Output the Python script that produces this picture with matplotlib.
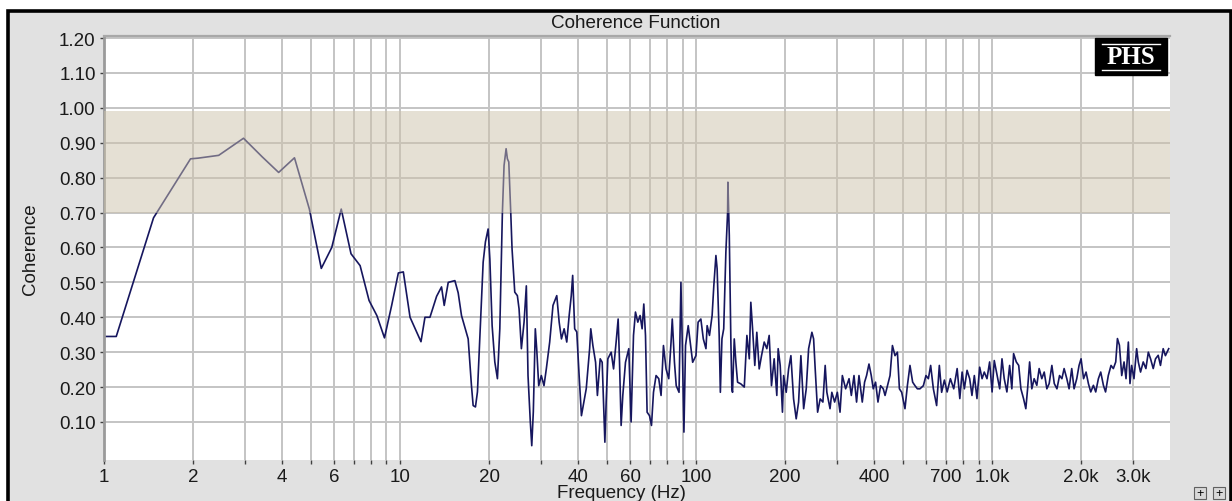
import matplotlib
matplotlib.use('Agg')
import matplotlib.pyplot as plt
from matplotlib.patches import Rectangle
from matplotlib.lines import Line2D
from matplotlib.ticker import FixedLocator, FixedFormatter

# Coherence data (frequency in Hz, coherence 0..1)
freq_hz = [
    1.0, 1.1, 1.47, 1.96, 2.08, 2.44, 2.96, 3.42, 3.89, 4.40,
    4.94, 5.42, 5.88, 6.33, 6.83, 7.33, 7.86, 8.35, 8.86, 9.37,
    9.87, 10.26, 10.81, 11.77, 12.14, 12.62, 13.29, 13.81, 14.10, 14.55,
    15.32, 15.72, 16.13, 16.99, 17.43, 17.66, 17.98, 18.26, 18.60, 19.09,
    19.43, 19.84, 20.11, 20.47, 20.90, 21.33, 21.73, 22.17, 22.46, 22.82,
    23.05, 23.30, 23.66, 23.90, 24.41, 24.91, 25.24, 25.70, 26.24, 26.71,
    27.06, 27.55, 27.86, 28.20, 28.64, 28.95, 29.41, 30.01, 30.64, 31.20,
    32.03, 32.86, 33.84, 34.48, 35.10, 35.84, 36.58, 37.27, 37.88, 38.30,
    38.90, 39.54, 40.27, 41.00, 42.56, 43.70, 44.09, 44.82, 45.77, 46.42,
    47.44, 48.18, 48.71, 49.20, 49.70, 50.35, 51.67, 52.64, 53.70, 54.55,
    55.14, 55.83, 56.56, 57.76, 59.26, 60.33, 61.47, 62.42, 63.56, 64.70,
    65.73, 66.60, 67.48, 68.33, 69.62, 70.70, 71.81, 73.27, 74.82, 76.17,
    77.60, 79.18, 80.86, 82.32, 83.10, 84.53, 85.70, 87.59, 88.89, 89.80,
    90.99, 92.13, 94.08, 96.12, 97.39, 99.9, 101.6, 103.8, 105.8, 108.0,
    109.0, 111.0, 113.3, 114.8, 116.7, 117.8, 119.7, 120.8, 122.3, 124.0,
    126.1, 127.8, 128.1, 129.5, 131.1, 132.1, 132.8, 134.6, 136.3, 138.1,
    141.7, 145.5, 148.5, 151.3, 153.1, 155.2, 157.9, 160.4, 163.4, 166.4,
    169.9, 173.4, 176.6, 179.8, 183.6, 187.4, 189.4, 192.4, 195.8, 197.6,
    201.6, 205.4, 209.1, 213.5, 217.9, 222.0, 226.0, 230.9, 235.6, 240.0,
    246.2, 249.5, 252.6, 257.4, 262.6, 268.2, 273.0, 276.6, 283.5, 287.5,
    293.8, 300.1, 306.4, 312.0, 320.1, 328.7, 334.6, 341.6, 348.5, 355.1,
    364.3, 370.9, 376.7, 383.8, 390.7, 396.8, 404.0, 411.6, 420.0, 428.9,
    434.9, 443.1, 452.1, 460.6, 469.9, 478.8, 486.3, 495.0, 507.8, 517.4,
    527.9, 539.1, 548.9, 559.2, 570.5, 586.0, 597.9, 609.2, 620.1, 633.3,
    649.6, 663.4, 675.4, 690.0, 705, 723, 742, 762, 778, 792,
    806, 823, 840, 855, 871, 889, 908, 925, 941, 961,
    981, 1000, 1017, 1040, 1061, 1080, 1099, 1122, 1146, 1166,
    1182, 1207, 1230, 1251, 1277, 1300, 1318, 1339, 1362, 1387,
    1416, 1442, 1472, 1500, 1531, 1559, 1592, 1622, 1656, 1690,
    1721, 1751, 1788, 1820, 1858, 1892, 1932, 1967, 1998, 2037,
    2077, 2115, 2154, 2199, 2239, 2286, 2328, 2377, 2417, 2469,
    2522, 2568, 2616, 2651, 2692, 2741, 2791, 2834, 2886, 2923,
    2961, 3015, 3078, 3118, 3173, 3240, 3308, 3371, 3430, 3502,
    3565, 3640, 3705, 3784, 3850, 3950,
]
coherence = [
    0.345, 0.345, 0.685, 0.854, 0.856, 0.864, 0.913, 0.860, 0.815, 0.857,
    0.710, 0.540, 0.600, 0.710, 0.582, 0.548, 0.448, 0.405, 0.341, 0.434,
    0.527, 0.530, 0.400, 0.330, 0.400, 0.400, 0.460, 0.487, 0.434, 0.500,
    0.505, 0.470, 0.405, 0.338, 0.204, 0.147, 0.143, 0.186, 0.338, 0.558,
    0.616, 0.653, 0.567, 0.376, 0.272, 0.224, 0.367, 0.700, 0.835, 0.883,
    0.854, 0.845, 0.700, 0.596, 0.472, 0.462, 0.424, 0.310, 0.386, 0.490,
    0.233, 0.100, 0.032, 0.129, 0.367, 0.310, 0.204, 0.233, 0.204, 0.252,
    0.329, 0.434, 0.462, 0.386, 0.338, 0.367, 0.329, 0.405, 0.462, 0.520,
    0.367, 0.358, 0.233, 0.118, 0.195, 0.310, 0.367, 0.319, 0.271, 0.176,
    0.281, 0.271, 0.147, 0.042, 0.158, 0.281, 0.300, 0.252, 0.329, 0.395,
    0.271, 0.090, 0.176, 0.271, 0.310, 0.100, 0.348, 0.415, 0.386, 0.405,
    0.367, 0.438, 0.348, 0.128, 0.118, 0.090, 0.185, 0.233, 0.224, 0.176,
    0.319, 0.252, 0.224, 0.329, 0.395, 0.271, 0.204, 0.185, 0.500, 0.329,
    0.071, 0.319, 0.376, 0.310, 0.271, 0.290, 0.386, 0.395, 0.338, 0.310,
    0.376, 0.348, 0.405, 0.490, 0.577, 0.539, 0.348, 0.185, 0.338, 0.367,
    0.587, 0.700, 0.787, 0.634, 0.329, 0.195, 0.185, 0.338, 0.271, 0.214,
    0.209, 0.200, 0.348, 0.281, 0.443, 0.367, 0.262, 0.357, 0.252, 0.290,
    0.329, 0.310, 0.348, 0.204, 0.281, 0.176, 0.310, 0.262, 0.128, 0.233,
    0.185, 0.252, 0.290, 0.166, 0.109, 0.157, 0.290, 0.138, 0.195, 0.310,
    0.357, 0.338, 0.252, 0.128, 0.166, 0.157, 0.262, 0.185, 0.138, 0.185,
    0.157, 0.185, 0.128, 0.233, 0.195, 0.224, 0.176, 0.233, 0.157, 0.233,
    0.157, 0.214, 0.233, 0.266, 0.233, 0.195, 0.214, 0.157, 0.204, 0.195,
    0.176, 0.204, 0.233, 0.319, 0.290, 0.300, 0.195, 0.185, 0.138, 0.204,
    0.262, 0.214, 0.204, 0.195, 0.195, 0.204, 0.233, 0.224, 0.262, 0.195,
    0.147, 0.262, 0.185, 0.220, 0.186, 0.224, 0.195, 0.253, 0.167, 0.243,
    0.195, 0.248, 0.224, 0.176, 0.233, 0.167, 0.257, 0.224, 0.243, 0.224,
    0.272, 0.186, 0.276, 0.233, 0.195, 0.281, 0.224, 0.186, 0.262, 0.195,
    0.296, 0.272, 0.262, 0.195, 0.167, 0.138, 0.195, 0.272, 0.195, 0.224,
    0.205, 0.253, 0.224, 0.243, 0.195, 0.210, 0.262, 0.210, 0.195, 0.233,
    0.224, 0.253, 0.224, 0.195, 0.253, 0.195, 0.224, 0.262, 0.281, 0.224,
    0.243, 0.210, 0.186, 0.205, 0.186, 0.224, 0.243, 0.205, 0.186, 0.233,
    0.262, 0.253, 0.272, 0.339, 0.320, 0.233, 0.272, 0.224, 0.329, 0.210,
    0.262, 0.224, 0.310, 0.272, 0.243, 0.272, 0.253, 0.300, 0.281, 0.253,
    0.281, 0.291, 0.262, 0.310, 0.290, 0.310,
]

x_ticks = [1, 2, 3, 4, 5, 6, 7, 8, 9,
           10, 20, 30, 40, 50, 60, 70, 80, 90,
           100, 200, 300, 400, 500, 600, 700, 800, 900,
           1000, 2000, 3000]
x_tick_text = {1: '1', 2: '2', 4: '4', 6: '6', 10: '10', 20: '20', 40: '40',
               60: '60', 100: '100', 200: '200', 400: '400', 700: '700',
               1000: '1.0k', 2000: '2.0k', 3000: '3.0k'}
y_ticks = [0.1, 0.2, 0.3, 0.4, 0.5, 0.6, 0.7, 0.8, 0.9, 1.0, 1.1, 1.2]
band_low, band_high = 0.70, 0.99

plt.rcParams['font.family'] = ['Liberation Sans', 'DejaVu Sans']
W, H = 1232, 502
fig = plt.figure(figsize=(W / 100, H / 100), dpi=100, facecolor='white')

# grey panel with black frame (behind the axes)
fig.patches.append(Rectangle((8 / W, -0.1), (1230.5 - 8) / W, 1.1 - 11.5 / H,
                             transform=fig.transFigure, facecolor='#e1e1e1',
                             edgecolor='black', linewidth=2.6, zorder=-10))

ax = fig.add_axes([104 / W, 1 - 461 / H, (1170 - 104) / W, (461 - 37) / H])
ax.set_zorder(1)
ax.set_facecolor('white')
ax.set_xscale('log')
ax.set_xlim(1, 3990)
ax.set_ylim(-0.009, 1.206)

ax.plot(freq_hz, coherence, color='#16165e', linewidth=1.2, zorder=2)
ax.axhspan(band_low, band_high, facecolor=(205 / 255, 195 / 255, 171 / 255),
           alpha=0.5, linewidth=0, zorder=3)

ax.xaxis.set_major_locator(FixedLocator(x_ticks))
ax.xaxis.set_major_formatter(FixedFormatter([x_tick_text.get(t, '') for t in x_ticks]))
ax.xaxis.set_minor_locator(FixedLocator([]))
ax.yaxis.set_major_locator(FixedLocator(y_ticks))
ax.yaxis.set_major_formatter(FixedFormatter(['%.2f' % v for v in y_ticks]))
ax.grid(True, which='major', color='#c4c4c4', linewidth=1.4)
ax.set_axisbelow(True)
ax.tick_params(axis='both', direction='out', length=3, width=1, color='#404040',
               labelsize=13.5, labelcolor='#1a1a1a')
ax.tick_params(axis='y', pad=3)
ax.tick_params(axis='x', pad=3)

for side in ['right', 'bottom']:
    ax.spines[side].set_visible(False)
ax.spines['left'].set_color('#9a9a9a')
ax.spines['left'].set_linewidth(2.0)
ax.spines['top'].set_color('#a8a8a8')
ax.spines['top'].set_linewidth(1.6)

fig.text(636 / W, 1 - 23 / H, 'Coherence Function', ha='center', va='center',
         fontsize=13.6, color='#1a1a1a')
fig.text(31 / W, 1 - 249 / H, 'Coherence', rotation=90, ha='center', va='center',
         fontsize=13.5, color='#1a1a1a')
fig.text(621 / W, 1 - 494 / H, 'Frequency (Hz)', ha='center', va='center',
         fontsize=13.5, color='#1a1a1a')

# PHS logo
fig.patches.append(Rectangle((1095 / W, 1 - 76 / H), 72 / W, 37 / H,
                             transform=fig.transFigure, facecolor='black',
                             edgecolor='black', zorder=5))
fig.lines.append(Line2D([1102 / W, 1160 / W], [1 - 44.5 / H, 1 - 44.5 / H],
                        transform=fig.transFigure, color='white', linewidth=1, zorder=6))
fig.lines.append(Line2D([1102 / W, 1160 / W], [1 - 70.5 / H, 1 - 70.5 / H],
                        transform=fig.transFigure, color='white', linewidth=1, zorder=6))
fig.text(1131 / W, 1 - 57.5 / H, 'PHS', family='Liberation Serif', weight='bold',
         color='white', fontsize=18, ha='center', va='center', zorder=7)

# small zoom buttons at bottom right
for bx in [1194, 1213]:
    fig.patches.append(Rectangle((bx / W, 1 - 500 / H), 12 / W, 12 / H,
                                 transform=fig.transFigure, facecolor='#d8d8d8',
                                 edgecolor='#606060', linewidth=0.8, zorder=5))
    fig.text((bx + 6) / W, 1 - 494 / H, '+', ha='center', va='center',
             fontsize=9, color='black', zorder=6)

plt.savefig('out.png', dpi=100)
plt.close()
